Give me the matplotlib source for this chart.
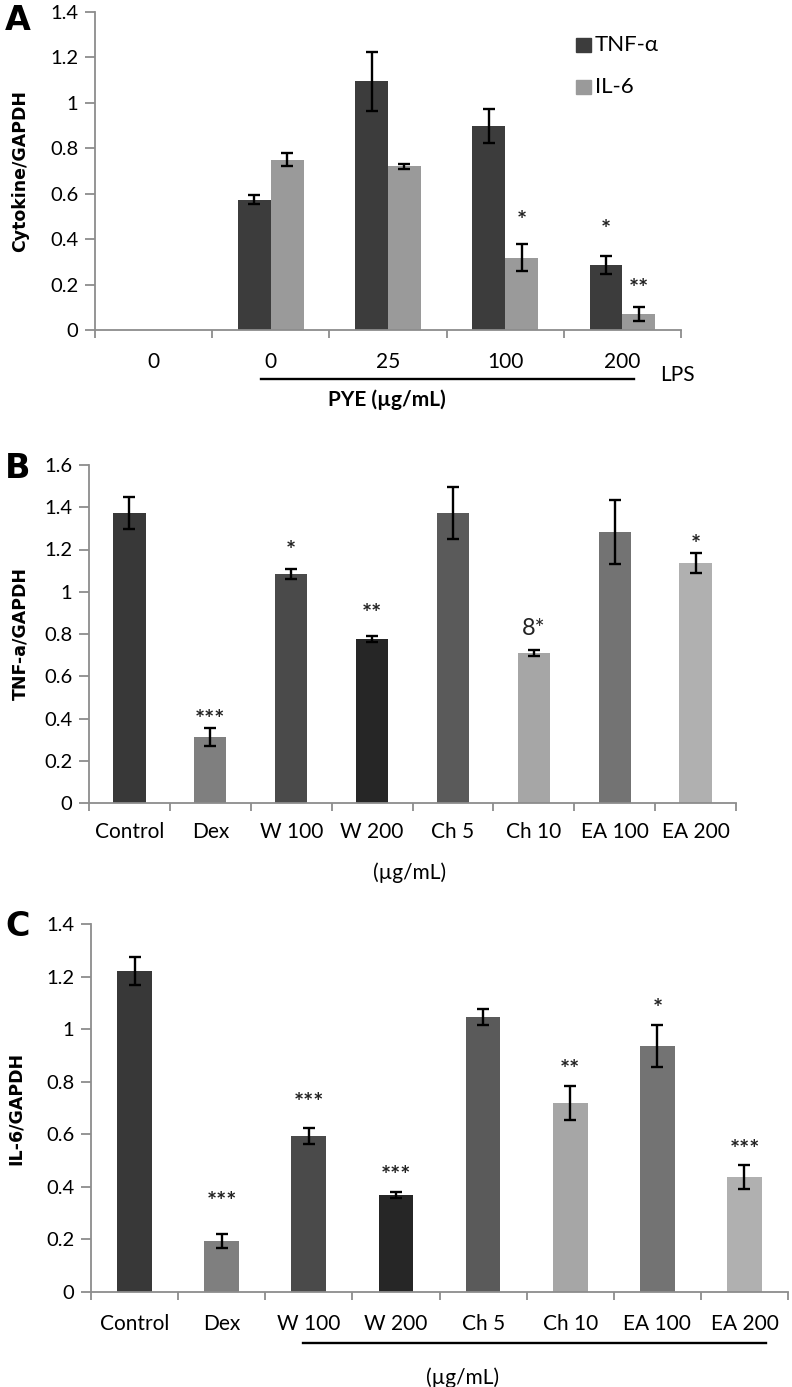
import matplotlib
matplotlib.use("Agg")
import matplotlib.pyplot as plt
from matplotlib.patches import Rectangle
import numpy as np

plt.rcParams['font.family'] = ['Lato', 'DejaVu Sans']

# ---------------- data ----------------
a_groups = ["0", "0", "25", "100", "200"]
a_tnf = [0, 0.574, 1.095, 0.897, 0.287]
a_tnf_err = [0, 0.02, 0.13, 0.075, 0.04]
a_il6 = [0, 0.75, 0.72, 0.318, 0.071]
a_il6_err = [0, 0.03, 0.01, 0.06, 0.03]
a_tnf_marks = ["", "", "", "", "*"]
a_tnf_mark_y = [0, 0, 0, 0, 0.47]
a_il6_marks = ["", "", "", "*", "**"]
a_il6_mark_y = [0, 0, 0, 0.51, 0.21]
a_series = ["TNF-α", "IL-6"]

bc_cats = ["Control", "Dex", "W 100", "W 200", "Ch 5", "Ch 10", "EA 100", "EA 200"]
bc_colors = ["#383838", "#7f7f7f", "#4a4a4a", "#262626", "#5a5a5a", "#a6a6a6", "#737373", "#b0b0b0"]

b_vals = [1.373, 0.312, 1.084, 0.776, 1.373, 0.71, 1.283, 1.136]
b_err = [0.076, 0.043, 0.024, 0.015, 0.123, 0.015, 0.15, 0.047]
b_marks = ["", "***", "*", "**", "", "8*", "", "*"]
b_mark_y = [0, 0.426, 1.226, 0.928, 0, 0.866, 0, 1.254]

c_vals = [1.221, 0.194, 0.594, 0.368, 1.045, 0.719, 0.936, 0.4375]
c_err = [0.053, 0.027, 0.03, 0.012, 0.03, 0.065, 0.08, 0.045]
c_marks = ["", "***", "***", "***", "", "**", "*", "***"]
c_mark_y = [0, 0.369, 0.746, 0.468, 0, 0.871, 1.103, 0.567]

W, H = 792, 1387
fig = plt.figure(figsize=(W / 100, H / 100), dpi=100)

def ax_at(left, right, top, bottom):
    return fig.add_axes([left / W, 1 - bottom / H, (right - left) / W, (bottom - top) / H])

def style(ax, n, ymax, ylabel, left_px, right_px, label_x_px):
    ax.set_xlim(-0.5, n - 0.5)
    ax.set_ylim(0, ymax)
    for s in ["top", "right"]:
        ax.spines[s].set_visible(False)
    for s in ["left", "bottom"]:
        ax.spines[s].set_color("#8c8c8c")
        ax.spines[s].set_linewidth(1.3)
    ticks = np.round(np.arange(0, ymax + 1e-9, 0.2), 2)
    ax.set_yticks(ticks)
    ax.set_yticklabels([("%g" % t) for t in ticks], fontsize=14.5)
    ax.tick_params(axis="y", direction="out", length=7, color="#8c8c8c", width=1.3, pad=5)
    ax.set_xticks(np.arange(-0.5, n, 1.0))
    ax.set_xticklabels([])
    ax.tick_params(axis="x", direction="out", length=6, color="#8c8c8c", width=1.3)
    ax.set_ylabel(ylabel, fontsize=12.5, fontweight="bold", family="DejaVu Sans")
    ax.yaxis.set_label_coords((label_x_px - left_px) / (right_px - left_px), 0.5)

ekw = dict(elinewidth=1.7, capsize=4, capthick=1.7, ecolor="black")
STAR_FS = 17

def star(ax, x, yc, s):
    weight = "bold" if set(s) == {"*"} else "normal"
    ax.annotate(s, (x, yc), xytext=(0, -0.62 * STAR_FS), textcoords="offset points",
                ha="center", va="baseline", fontsize=STAR_FS, fontweight=weight, color="#222222")

# ---------------- Panel A ----------------
A_L, A_R = 95, 681
axA = ax_at(A_L, A_R, 12, 330)
style(axA, 5, 1.4, "Cytokine/GAPDH", A_L, A_R, 29)
x = np.arange(len(a_groups))
bw = 0.28
axA.bar(x - bw / 2, a_tnf, bw, color="#3c3c3c", zorder=2)
axA.bar(x + bw / 2, a_il6, bw, color="#9a9a9a", zorder=2)
for i in range(1, len(x)):
    axA.errorbar(x[i] - bw / 2, a_tnf[i], yerr=a_tnf_err[i], fmt="none", **ekw)
    axA.errorbar(x[i] + bw / 2, a_il6[i], yerr=a_il6_err[i], fmt="none", **ekw)
for i, m in enumerate(a_tnf_marks):
    if m:
        star(axA, x[i] - bw / 2, a_tnf_mark_y[i], m)
for i, m in enumerate(a_il6_marks):
    if m:
        star(axA, x[i] + bw / 2, a_il6_mark_y[i], m)
for i, g in enumerate(a_groups):
    axA.text(i, -0.097, g, ha="center", va="top", fontsize=15)
axA.plot([0.916, 4.1], [-0.216, -0.216], color="black", lw=1.7, clip_on=False)
axA.text(4.47, -0.199, "LPS", ha="center", va="center", fontsize=15)
axA.text(1.99, -0.309, "PYE (µg/mL)", ha="center", va="center", fontsize=15, fontweight="bold")
# legend
leg_colors = ["#3c3c3c", "#9a9a9a"]
leg_y = [45, 87]
for lab, col, yy in zip(a_series, leg_colors, leg_y):
    fig.patches.append(Rectangle((576 / W, 1 - (yy + 7) / H), 15 / W, 14 / H,
                                 transform=fig.transFigure, color=col, figure=fig))
    fig.text(595 / W, 1 - yy / H, lab, fontsize=16, va="center", ha="left")
fig.text(18 / W, 1 - 21 / H, "A", fontsize=24, fontweight="bold", family="DejaVu Sans",
         va="center", ha="center")

# ---------------- Panel B ----------------
B_L, B_R = 89, 736
axB = ax_at(B_L, B_R, 465, 803)
style(axB, 8, 1.6, "TNF-a/GAPDH", B_L, B_R, 29)
xb = np.arange(len(bc_cats))
axB.bar(xb, b_vals, 0.4, color=bc_colors, zorder=2)
axB.errorbar(xb, b_vals, yerr=b_err, fmt="none", **ekw)
for i, m in enumerate(b_marks):
    if m:
        star(axB, xb[i], b_mark_y[i], m)
for i, c in enumerate(bc_cats):
    axB.text(i, -0.092, c, ha="center", va="top", fontsize=15)
axB.text(3.46, -0.331, "(µg/mL)", ha="center", va="center", fontsize=15)
fig.text(18 / W, 1 - 468 / H, "B", fontsize=24, fontweight="bold", family="DejaVu Sans",
         va="center", ha="center")

# ---------------- Panel C ----------------
C_L, C_R = 91, 788
axC = ax_at(C_L, C_R, 924, 1292)
style(axC, 8, 1.4, "IL-6/GAPDH", C_L, C_R, 25)
axC.bar(xb, c_vals, 0.4, color=bc_colors, zorder=2)
axC.errorbar(xb, c_vals, yerr=c_err, fmt="none", **ekw)
for i, m in enumerate(c_marks):
    if m:
        star(axC, xb[i], c_mark_y[i], m)
for i, c in enumerate(bc_cats):
    axC.text(i, -0.082, c, ha="center", va="top", fontsize=15)
axC.plot([1.93, 7.25], [-0.194, -0.194], color="black", lw=1.7, clip_on=False)
axC.text(3.77, -0.325, "(µg/mL)", ha="center", va="center", fontsize=15)
fig.text(18 / W, 1 - 927 / H, "C", fontsize=24, fontweight="bold", family="DejaVu Sans",
         va="center", ha="center")

fig.savefig("out.png", dpi=100)
